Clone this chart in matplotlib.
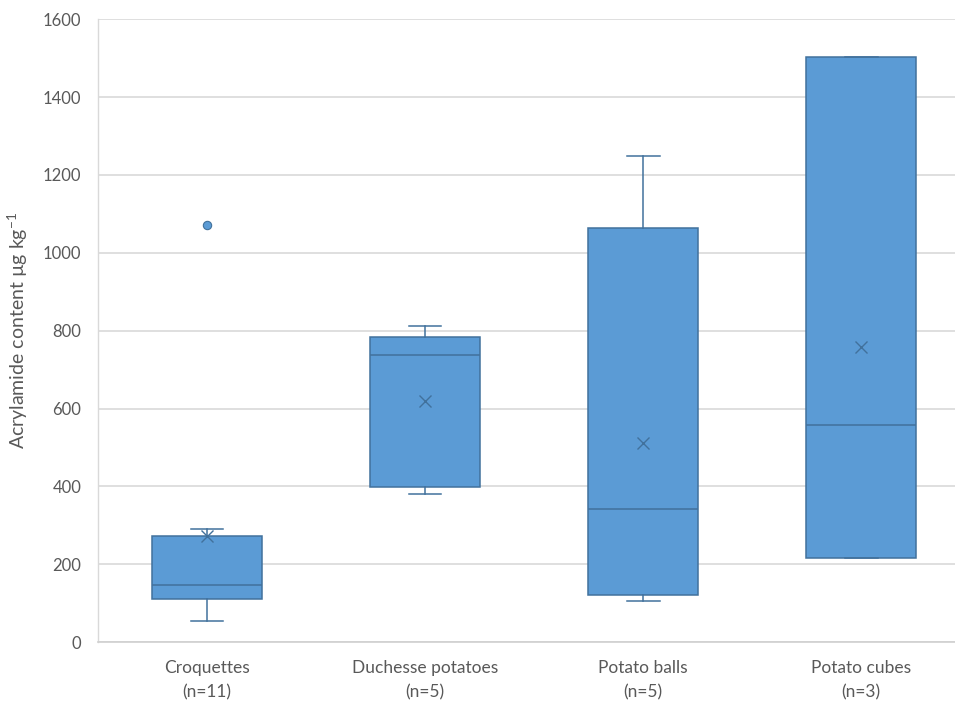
import matplotlib
matplotlib.use("Agg")
import matplotlib.pyplot as plt

plt.rcParams['font.family'] = ['Lato', 'DejaVu Sans']
plt.rcParams['mathtext.fontset'] = 'custom'
plt.rcParams['mathtext.rm'] = 'Lato'

# box plot summary values (ug/kg)
categories = ['Croquettes', 'Duchesse potatoes', 'Potato balls', 'Potato cubes']
counts = [11, 5, 5, 3]
mins = [55, 381, 105, 215]
q1s = [112, 399, 121, 215]
medians = [147, 738, 342, 559]
q3s = [273, 784, 1065, 1503]
maxs = [291, 813, 1250, 1503]
means = [273, 620, 512, 758]
outliers = [[1072], [], [], []]

fill = '#5B9BD5'
edge = '#41719C'
text_col = '#595959'

stats = []
for i in range(len(categories)):
    stats.append({'med': medians[i], 'q1': q1s[i], 'q3': q3s[i],
                  'whislo': mins[i], 'whishi': maxs[i],
                  'mean': means[i], 'fliers': outliers[i]})

fig = plt.figure(figsize=(9.55, 7.02), dpi=100)
ax = fig.add_axes([0.1026, 0.0852, 0.8974, 0.8874])

ax.bxp(stats, positions=range(1, 5), widths=0.505, patch_artist=True,
       showmeans=True,
       boxprops=dict(facecolor=fill, edgecolor=edge, linewidth=1.1),
       medianprops=dict(color=edge, linewidth=1.1),
       whiskerprops=dict(color=edge, linewidth=1.1),
       capprops=dict(color=edge, linewidth=1.1),
       capwidths=0.15,
       meanprops=dict(marker='x', markeredgecolor=edge, markersize=9,
                      markeredgewidth=1.0),
       flierprops=dict(marker='o', markerfacecolor=fill, markeredgecolor=edge,
                       markersize=6, markeredgewidth=0.8))

ax.set_ylim(0, 1600)
ax.set_xlim(0.5, 4.43)
ax.set_yticks(range(0, 1601, 200))
ax.yaxis.grid(True, color='#D9D9D9', linewidth=1.2)
ax.set_axisbelow(True)

ax.set_xticks(range(1, 5))
ax.set_xticklabels([f'{c}\n(n={n})' for c, n in zip(categories, counts)],
                   linespacing=1.65)
ax.tick_params(axis='x', length=0, pad=13, labelsize=12.5, labelcolor=text_col)
ax.tick_params(axis='y', length=0, pad=12, labelsize=12, labelcolor=text_col)

for s in ['top', 'right']:
    ax.spines[s].set_visible(False)
ax.spines['left'].set_color('#D9D9D9')
ax.spines['bottom'].set_color('#D0D0D0')
ax.spines['left'].set_linewidth(1.0)
ax.spines['bottom'].set_linewidth(1.2)

ax.set_ylabel(r'Acrylamide content µg kg$^{\mathregular{-1}}$', fontsize=14,
              color=text_col, labelpad=9)

fig.savefig('out.png', dpi=100)
